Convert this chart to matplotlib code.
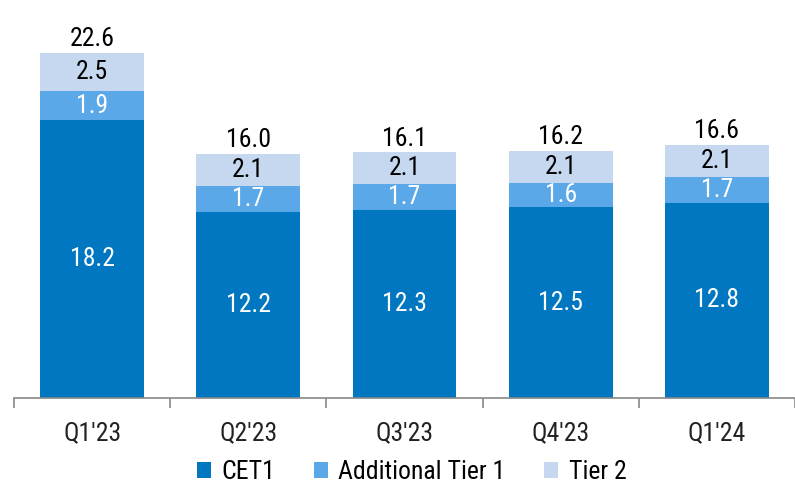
import matplotlib.pyplot as plt
import numpy as np
from matplotlib import font_manager

names = {f.name for f in font_manager.fontManager.ttflist}
fams = [n for n in ['Roboto Condensed', 'Liberation Sans Narrow', 'DejaVu Sans Condensed',
                    'Open Sans Condensed', 'Roboto'] if n in names]
plt.rcParams['font.family'] = fams + ['DejaVu Sans']

quarters = ["Q1'23", "Q2'23", "Q3'23", "Q4'23", "Q1'24"]
cet1 = [18.2, 12.2, 12.3, 12.5, 12.8]
at1 = [1.9, 1.7, 1.7, 1.6, 1.7]
tier2 = [2.5, 2.1, 2.1, 2.1, 2.1]
totals = [22.6, 16.0, 16.1, 16.2, 16.6]

c_cet1 = '#0077C0'
c_at1 = '#5BA8E8'
c_t2 = '#C6D8F0'

fig = plt.figure(figsize=(7.95, 4.84), dpi=100)
ax = fig.add_axes([14 / 795, 86 / 484, 781 / 795, 345 / 484])

x = np.arange(len(quarters))
w = 0.665
b1 = ax.bar(x, cet1, w, color=c_cet1, label='CET1')
b2 = ax.bar(x, at1, w, bottom=cet1, color=c_at1, label='Additional Tier 1')
bot3 = np.array(cet1) + np.array(at1)
b3 = ax.bar(x, tier2, w, bottom=bot3, color=c_t2, label='Tier 2')

fs = 18.5
for i in range(len(x)):
    ax.text(x[i], cet1[i] / 2, f'{cet1[i]:.1f}', ha='center', va='center',
            color='white', fontsize=fs)
    ax.text(x[i], cet1[i] + at1[i] / 2, f'{at1[i]:.1f}', ha='center', va='center',
            color='white', fontsize=fs)
    ax.text(x[i], bot3[i] + tier2[i] / 2, f'{tier2[i]:.1f}', ha='center', va='center',
            color='black', fontsize=fs)
    ax.text(x[i], bot3[i] + tier2[i] + 0.1, f'{totals[i]:.1f}', ha='center', va='bottom',
            color='black', fontsize=fs)

ax.set_ylim(0, 22.6)
ax.set_xlim(-0.5, -0.5 + 781 / 158)
for s in ['top', 'right', 'left']:
    ax.spines[s].set_visible(False)
ax.spines['bottom'].set_color('#888888')
ax.spines['bottom'].set_linewidth(1.2)
ax.set_yticks([])
ax.set_xticks(np.arange(-0.5, 4.6, 1.0))
ax.set_xticklabels([])
ax.set_xticks(x, minor=True)
ax.set_xticklabels(quarters, minor=True, fontsize=fs, color='#222222')
ax.tick_params(axis='x', which='major', length=7, color='#888888', width=1.2)
ax.tick_params(axis='x', which='minor', length=0, pad=17)

fig.legend(handles=[b1, b2, b3], loc='lower center', bbox_to_anchor=(0.518, -0.048),
           ncol=3, frameon=False, fontsize=fs, handlelength=0.55, handleheight=0.55,
           handletextpad=0.4, columnspacing=1.5)

fig.savefig('out.png', dpi=100)
